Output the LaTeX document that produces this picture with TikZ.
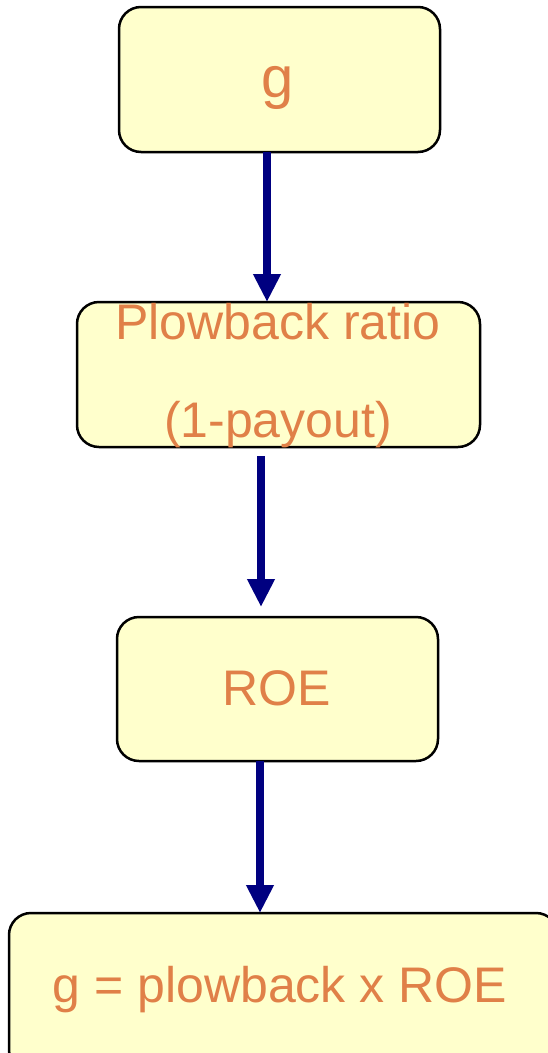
\documentclass[tikz,border=0pt]{standalone}
\usepackage{fontspec}
\setmainfont{Liberation Sans}
\usetikzlibrary{arrows.meta}
\definecolor{boxfill}{HTML}{FFFFCC}
\definecolor{labeltext}{HTML}{E08048}
\definecolor{arrownavy}{HTML}{000080}
\begin{document}
\begin{tikzpicture}[x=1pt,y=-1pt,
  flowbox/.style={draw=black,line width=2.5pt,fill=boxfill,rounded corners=22pt},
  label/.style={text=labeltext,font=\fontsize{50}{58}\selectfont,inner sep=0pt},
  flowarrow/.style={draw=arrownavy,line width=8pt,-{Triangle[length=28pt,width=26pt]}}]
  \useasboundingbox (0,0) rectangle (548,1053);
  \clip (0,0) rectangle (548,1053);
  % boxes
  \draw[flowbox] (119,7) rectangle (440,152);
  \node[label,font=\fontsize{58}{66}\selectfont] (g) at (278,88) {g};
  \draw[flowbox] (77,302) rectangle (480,447);
  \node[label] (plow) at (278,322) {Plowback ratio};
  \node[label] (pay) at (278,425) {(1-payout)};
  \draw[flowbox] (117,617) rectangle (438,761);
  \node[label] (roe) at (277,688) {ROE};
  \draw[flowbox] (9,913) rectangle (558,1072);
  \node[label] (eq) at (280,990) {g = plowback x ROE};
  % connectors
  \coordinate (a1s) at (267,152);
  \coordinate (a1e) at (267,302);
  \coordinate (a2s) at (261,456);
  \coordinate (a2e) at (261,607);
  \coordinate (a3s) at (260,761);
  \coordinate (a3e) at (260,913);
  \draw[flowarrow] (a1s) -- (a1e);
  \draw[flowarrow] (a2s) -- (a2e);
  \draw[flowarrow] (a3s) -- (a3e);
\end{tikzpicture}
\end{document}
